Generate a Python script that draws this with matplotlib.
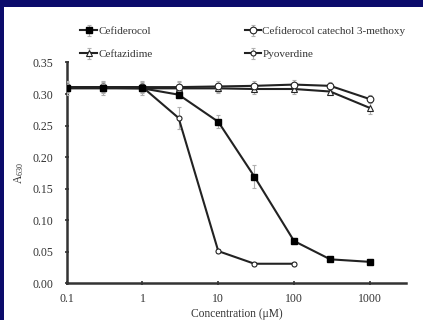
import matplotlib
matplotlib.use("Agg")
import matplotlib.pyplot as plt
from matplotlib.patches import Rectangle

# data
conc = [0.1, 0.3, 1, 3, 10, 30, 100, 300, 1000]
conc_pyo = [0.1, 0.3, 1, 3, 10, 30, 100]

cefiderocol = [0.310, 0.310, 0.309, 0.299, 0.256, 0.169, 0.067, 0.038, 0.034]
cefiderocol_err = [0.006, 0.006, 0.006, 0.006, 0.010, 0.018, 0.005, 0.003, 0.003]

catechol = [0.311, 0.311, 0.311, 0.311, 0.312, 0.313, 0.315, 0.313, 0.292]
catechol_err = [0.010, 0.010, 0.010, 0.010, 0.008, 0.008, 0.008, 0.006, 0.006]

ceftazidime = [0.309, 0.309, 0.309, 0.309, 0.309, 0.308, 0.308, 0.304, 0.278]
ceftazidime_err = [0.010, 0.010, 0.010, 0.010, 0.008, 0.008, 0.008, 0.006, 0.010]

pyoverdine = [0.311, 0.311, 0.311, 0.262, 0.051, 0.031, 0.031]
pyoverdine_err = [0.006, 0.006, 0.006, 0.018, 0.003, 0.002, 0.002]

xticks = [0.1, 1, 10, 100, 1000]
xticklabels = ["0.1", "1", "10", "100", "1000"]
yticks = [0.00, 0.05, 0.10, 0.15, 0.20, 0.25, 0.30, 0.35]

plt.rcParams['font.family'] = ['Liberation Serif', 'DejaVu Serif']
plt.rcParams['mathtext.fontset'] = 'custom'
plt.rcParams['mathtext.rm'] = 'Liberation Serif'
plt.rcParams['mathtext.it'] = 'Liberation Serif'

navy = '#0b0b6b'
fig = plt.figure(figsize=(4.23, 3.2), dpi=100, facecolor=navy)
fig.patches.append(Rectangle((4 / 423, 0), 1, (320 - 7) / 320, transform=fig.transFigure,
                             facecolor='white', edgecolor='none', zorder=-10))

ax = fig.add_axes([66.7 / 423, 36.7 / 320, (406 - 66.7) / 423, (283.3 - 62.5) / 320])
ax.patch.set_alpha(0)

lc = '#222222'
ec = '#b0b0b0'
common = dict(color=lc, lw=1.5, ecolor=ec, elinewidth=0.8, capsize=1.5, capthick=0.8)

h1 = ax.errorbar(conc, cefiderocol, yerr=cefiderocol_err, marker='s', ms=4.5,
                 mfc='black', mec='black', label='Cefiderocol', zorder=4, **common)
h3 = ax.errorbar(conc, ceftazidime, yerr=ceftazidime_err, marker='^', ms=4.5,
                 mfc='white', mec=lc, mew=0.8, label='Ceftazidime', zorder=3, **common)
h2 = ax.errorbar(conc, catechol, yerr=catechol_err, marker='o', ms=4.8,
                 mfc='white', mec=lc, mew=0.8, label='Cefiderocol catechol 3-methoxy', zorder=3, **common)
h4 = ax.errorbar(conc_pyo, pyoverdine, yerr=pyoverdine_err, marker='o', ms=3.6,
                 mfc='white', mec=lc, mew=0.8, label='Pyoverdine', zorder=3, **common)

ax.set_xscale('log')
ax.set_xlim(0.1, 3000)
ax.set_ylim(0, 0.35)
ax.set_xticks(xticks)
ax.set_xticklabels(xticklabels)
ax.minorticks_off()
ax.set_yticks(yticks)
ax.set_yticklabels(["%.2f" % v for v in yticks])

for s in ['top', 'right']:
    ax.spines[s].set_visible(False)
for s in ['left', 'bottom']:
    ax.spines[s].set_linewidth(1.8)
    ax.spines[s].set_color('#333333')

ax.tick_params(axis='both', direction='inout', length=3, width=1.2, color='#333333',
               labelsize=8.5, labelcolor='#333333')
ax.tick_params(axis='y', pad=8)
ax.tick_params(axis='x', pad=5.5)

ax.set_xlabel('Concentration (\u03bcM)', fontsize=8.3, color='#333333', labelpad=2)
ax.set_ylabel('A$_{630}$', fontsize=8.3, color='#333333', labelpad=5)

fig.legend([h1, h3, h2, h4],
           ['Cefiderocol', 'Ceftazidime', 'Cefiderocol catechol 3-methoxy', 'Pyoverdine'],
           ncol=2, frameon=False, loc='upper left', bbox_to_anchor=(76 / 423, (320 - 22) / 320),
           fontsize=8, handlelength=1.5, handletextpad=0.1, columnspacing=8.3,
           labelspacing=1.2, borderaxespad=0, labelcolor='#333333')

fig.savefig('out.png', dpi=100, facecolor=fig.get_facecolor())
